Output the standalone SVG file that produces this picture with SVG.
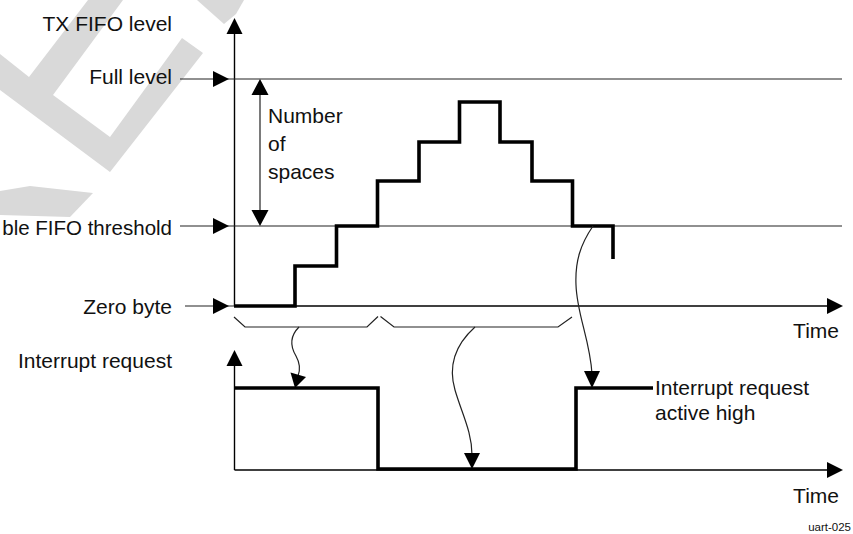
<svg xmlns="http://www.w3.org/2000/svg" width="853" height="534" viewBox="0 0 853 534">
<style>
text{font-family:"Liberation Sans",Arial,sans-serif;font-size:21px;fill:#111}
.r{text-anchor:end}
.thin{fill:none;stroke:#222;stroke-width:1.2}
.axis{fill:none;stroke:#000;stroke-width:1.4}
.sig{fill:none;stroke:#000;stroke-width:3.6;stroke-linejoin:miter;stroke-linecap:butt}
.head{fill:#000;stroke:none}
.wm{fill:#d9d9d9;stroke:none}
</style>
<rect width="853" height="534" fill="#fff"/>
<g id="watermark">
<polygon class="wm" points="0,54 29,77 88,0 123,0 53,95 110,137 182,38 203,53 110,172 0,90"/>
<polygon class="wm" points="197,0 244,0 236,14 224,24"/>
<polygon class="wm" points="0,191 30,186 93,193 70,217 0,215"/>
</g>
<g id="axes">
<line class="axis" x1="234.5" y1="32" x2="234.5" y2="306"/>
<polygon class="head" points="234.5,18 226.5,34 242.5,34"/>
<line class="axis" x1="234.5" y1="306" x2="829" y2="306"/>
<polygon class="head" points="843,306 827,298 827,314"/>
<line class="axis" x1="234.5" y1="364" x2="234.5" y2="470"/>
<polygon class="head" points="234.5,350 226.5,366 242.5,366"/>
<line class="axis" x1="234.5" y1="470" x2="829" y2="470"/>
<polygon class="head" points="843,470 827,462 827,478"/>
</g>
<g id="levels">
<line class="thin" x1="180" y1="79" x2="842" y2="79"/>
<polygon class="head" points="229,79 213,71 213,87"/>
<line class="thin" x1="180" y1="226" x2="842" y2="226"/>
<polygon class="head" points="229,226 213,218 213,234"/>
<line class="thin" x1="185" y1="306" x2="234" y2="306"/>
<polygon class="head" points="229,306 213,298 213,314"/>
</g>
<g id="spaces-arrow">
<line class="thin" x1="260" y1="93" x2="260" y2="212"/>
<polygon class="head" points="260,79 251.5,95 268.5,95"/>
<polygon class="head" points="260,226 251.5,210 268.5,210"/>
</g>
<g id="fifo-level">
<polyline class="sig" points="234,306 295,306 295,266 336.5,266 336.5,226 377.5,226 377.5,181 419,181 419,142 459.5,142 459.5,102 500,102 500,142 532,142 532,181 572.5,181 572.5,226 613,226 613,259"/>
</g>
<g id="interrupt">
<polyline class="sig" points="234,388 378,388 378,469 576,469 576,388 653,388"/>
</g>
<g id="connectors">
<polyline class="thin" points="234,317 245,327 367,327 378,316.5"/>
<polyline class="thin" points="380.5,316.5 394,327 558,327 572,317"/>
<path class="thin" d="M299,327 C290,336 290,346 296,356 C301,365 300,371 298,376"/>
<polygon class="head" points="295,388 290.5,372.5 306,377"/>
<path class="thin" d="M475,327 C455,345 448,366 455,390 C462,414 472,432 472,455"/>
<polygon class="head" points="472,469 464,453 480,453"/>
<path class="thin" d="M593,226 C580,245 575,262 576,285 C577,315 590,340 592,374"/>
<polygon class="head" points="592,388 584,371 600,371"/>
</g>
<g id="labels">
<text class="r" x="172" y="31">TX FIFO level</text>
<text class="r" x="172" y="84">Full level</text>
<text class="r" x="172" y="235" style="font-size:20.5px">ble FIFO threshold</text>
<text class="r" x="172" y="314">Zero byte</text>
<text class="r" x="172" y="368">Interrupt request</text>
<text x="268" y="123">Number</text>
<text x="268" y="151">of</text>
<text x="268" y="179">spaces</text>
<text class="r" x="839" y="338">Time</text>
<text class="r" x="839" y="503">Time</text>
<text x="655" y="395">Interrupt request</text>
<text x="655" y="420">active high</text>
<text class="r" x="851" y="531" style="font-size:11.5px">uart-025</text>
</g>
</svg>
